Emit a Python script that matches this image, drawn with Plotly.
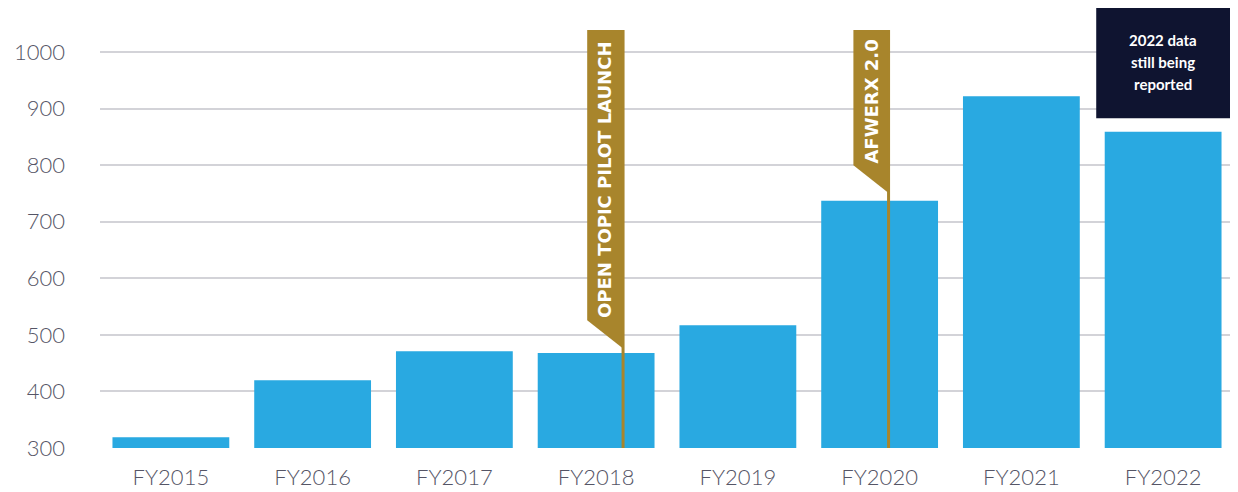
import plotly.graph_objects as go

categories = ["FY2015", "FY2016", "FY2017", "FY2018", "FY2019", "FY2020", "FY2021", "FY2022"]
values = [319, 420, 471, 468, 517, 737, 922, 859]
y_ticks = [300, 400, 500, 600, 700, 800, 900, 1000]
milestones = ["OPEN TOPIC PILOT LAUNCH", "AFWERX 2.0"]
note_lines = ["2022 data", "still being", "reported"]

BLUE = "#29A9E1"
GOLD = "#A8852C"
NAVY = "#0F1430"
GREY = "#555566"
GRID = "#D3D3D8"

x_idx = list(range(len(categories)))

fig = go.Figure(go.Bar(x=x_idx, y=values, marker=dict(color=BLUE, line=dict(width=0)),
                       hoverinfo="x+y"))

shapes = []
annotations = []

flags = [
    dict(pole=3.19, left=2.937, top=1039, bottom_left=526, tip=476, tx=3.063, ty=774, text=milestones[0]),
    dict(pole=5.063, left=4.815, top=1039, bottom_left=800, tip=751, tx=4.944, ty=912, text=milestones[1]),
]
for f in flags:
    shapes.append(dict(type="path", xref="x", yref="y", layer="above",
                       path=f"M {f['left']},{f['top']} L {f['pole']},{f['top']} L {f['pole']},{f['tip']} L {f['left']},{f['bottom_left']} Z",
                       fillcolor=GOLD, line=dict(width=0)))
    shapes.append(dict(type="line", xref="x", yref="y", layer="above",
                       x0=f['pole'], x1=f['pole'], y0=300, y1=f['top'],
                       line=dict(color=GOLD, width=3)))
    annotations.append(dict(x=f['tx'], y=f['ty'], xref="x", yref="y", text=f"<b>{f['text']}</b>",
                            textangle=-90, showarrow=False,
                            font=dict(family="DejaVu Sans", size=18, color="white")))

# Note box
shapes.append(dict(type="rect", xref="x", yref="y", layer="above",
                   x0=6.528, x1=7.479, y0=883, y1=1078,
                   fillcolor=NAVY, line=dict(width=0)))
for line, yv in zip(note_lines, [1021, 982, 943]):
    annotations.append(dict(x=7.0, y=yv, xref="x", yref="y", text=f"<b>{line}</b>",
                            showarrow=False, align="center",
                            font=dict(family="Lato", size=15, color="white")))

fig.update_layout(
    width=1230, height=484,
    margin=dict(l=92, r=4, t=0, b=44),
    plot_bgcolor="white", paper_bgcolor="white",
    bargap=0.176,
    showlegend=False,
    shapes=shapes,
    annotations=annotations,
    font=dict(family="Lato", color=GREY, size=22, weight=300),
    xaxis=dict(tickvals=x_idx, ticktext=categories, range=[-0.5, 7.5],
               showgrid=False, zeroline=False, showline=False, ticks="",
               ticklabelstandoff=14,
               tickfont=dict(family="Lato", size=22, color=GREY, weight=300)),
    yaxis=dict(range=[300, 1078], tickvals=y_ticks, showgrid=True, gridcolor=GRID,
               gridwidth=2, zeroline=False, showline=False, ticks="",
               ticklabelstandoff=34,
               tickfont=dict(family="Lato", size=22, color=GREY, weight=300)),
)

fig.write_html("out.html")
